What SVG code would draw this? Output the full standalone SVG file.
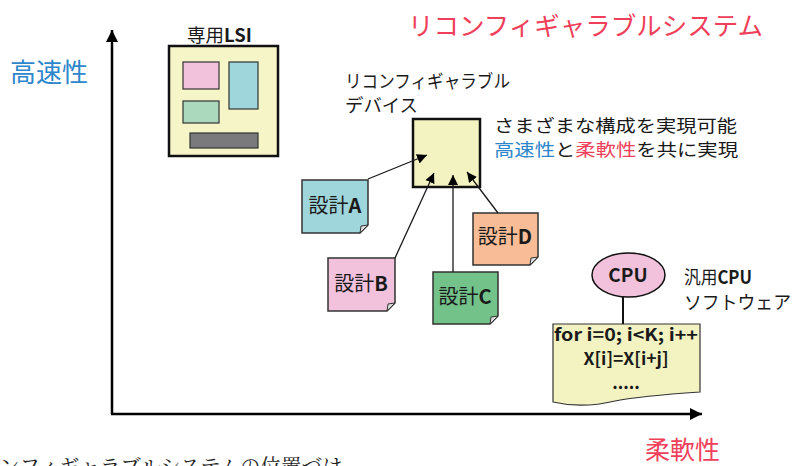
<svg xmlns="http://www.w3.org/2000/svg" width="795" height="466" viewBox="0 0 795 466">
<style>
text{font-family:"Noto Sans CJK JP","Noto Sans",sans-serif;fill:#1a1a1a}
.lat{font-weight:bold}
.note{stroke:#333;stroke-width:1.5}
.fold{fill:#ddd;stroke:#333;stroke-width:1}
.conn{stroke:#1a1a1a;stroke-width:1.3;fill:none;marker-end:url(#ah)}
.blue{fill:#2e86cc}
.red{fill:#ef3f5a}
.dl{font-size:20px}
</style>
<defs>
<marker id="ah" viewBox="0 0 10 10" refX="10" refY="5" markerWidth="10" markerHeight="10" markerUnits="userSpaceOnUse" orient="auto">
<path d="M0,0 L10,5 L0,10 Z" fill="#000"/>
</marker>
<marker id="axh" viewBox="0 0 10 10" refX="10" refY="5" markerWidth="14" markerHeight="12" markerUnits="userSpaceOnUse" orient="auto">
<path d="M0,0 L10,5 L0,10 Z" fill="#000"/>
</marker>
</defs>
<rect width="795" height="466" fill="#fff"/>

<g id="axes">
<line x1="112" y1="414" x2="112" y2="30" stroke="#000" stroke-width="2.5" marker-end="url(#axh)"/>
<line x1="111" y1="414" x2="702" y2="414" stroke="#000" stroke-width="2.5" marker-end="url(#axh)"/>
</g>

<g id="labels">
<text x="10" y="82" font-size="26" class="blue">高速性</text>
<text x="408" y="35" font-size="25.5" class="red">リコンフィギャラブルシステム</text>
<text x="645" y="459" font-size="25" class="red">柔軟性</text>
<text x="-1" y="474" font-size="20.5" style="font-family:'Noto Serif CJK JP','Liberation Serif','Noto Sans CJK JP',serif;fill:#222">ンフィギャラブルシステムの位置づけ</text>
</g>

<g id="lsi">
<text x="187" y="42" font-size="18.5">専用<tspan class="lat">LSI</tspan></text>
<rect x="169" y="46" width="109" height="110" fill="#f5f5c8" stroke="#111" stroke-width="2.5"/>
<rect x="183" y="62" width="36" height="27" fill="#f2c2dc" stroke="#333" stroke-width="1.2"/>
<rect x="229" y="62" width="29" height="47" fill="#9fd6dc" stroke="#333" stroke-width="1.2"/>
<rect x="183" y="101" width="36" height="22" fill="#abd9bd" stroke="#333" stroke-width="1.2"/>
<rect x="190" y="133" width="68" height="15" fill="#7a7a7c" stroke="#333" stroke-width="1.2"/>
</g>

<g id="device">
<text x="345" y="88" font-size="18" textLength="165" lengthAdjust="spacingAndGlyphs">リコンフィギャラブル</text>
<text x="345" y="112" font-size="18" textLength="73" lengthAdjust="spacingAndGlyphs">デバイス</text>
<rect x="413" y="119" width="67" height="68" fill="#f3f3c2" stroke="#111" stroke-width="2.5"/>
<text x="494" y="132" font-size="17.5" textLength="243" lengthAdjust="spacingAndGlyphs">さまざまな構成を実現可能</text>
<text x="494" y="156" font-size="17.5" textLength="244" lengthAdjust="spacingAndGlyphs"><tspan class="blue">高速性</tspan>と<tspan class="red">柔軟性</tspan>を共に実現</text>
</g>

<g id="designA">
<path class="note" d="M302,180 H368 V225 L360,233 H302 Z" fill="#9fd6dc"/>
<path class="fold" d="M368,225 L360,233 L361,226 Z"/>
<text x="335" y="213" class="dl" text-anchor="middle">設計<tspan class="lat">A</tspan></text>
</g>

<g id="designB">
<path class="note" d="M328,258 H395 V303 L387,311 H328 Z" fill="#f2c2dc"/>
<path class="fold" d="M395,303 L387,311 L388,304 Z"/>
<text x="361" y="291" class="dl" text-anchor="middle">設計<tspan class="lat">B</tspan></text>
</g>

<g id="designC">
<path class="note" d="M433,272 H498 V316 L490,324 H433 Z" fill="#72c28a"/>
<path class="fold" d="M498,316 L490,324 L491,317 Z"/>
<text x="465" y="304" class="dl" text-anchor="middle">設計<tspan class="lat">C</tspan></text>
</g>

<g id="designD">
<path class="note" d="M473,213 H538 V257 L530,265 H473 Z" fill="#f8bd96"/>
<path class="fold" d="M538,257 L530,265 L531,258 Z"/>
<text x="505" y="244" class="dl" text-anchor="middle">設計<tspan class="lat">D</tspan></text>
</g>

<g id="cpu">
<ellipse cx="628.5" cy="275" rx="36.5" ry="22" fill="#f2c2dc" stroke="#111" stroke-width="1.5"/>
<text x="628" y="282" font-size="19" text-anchor="middle" class="lat">CPU</text>
<text x="684" y="284" font-size="18.5" textLength="68" lengthAdjust="spacingAndGlyphs">汎用<tspan class="lat">CPU</tspan></text>
<text x="684" y="309" font-size="18.5" textLength="107" lengthAdjust="spacingAndGlyphs">ソフトウェア</text>
</g>

<g id="software">
<path d="M553,324 H700 V392 C670,394 640,396 615,401 C590,407 570,406 553,402 Z" fill="#f3f3c2" stroke="#333" stroke-width="1.2"/>
<text x="626" y="341" font-size="17" text-anchor="middle" class="lat" textLength="144" lengthAdjust="spacingAndGlyphs">for i=0; i&lt;K; i++</text>
<text x="626" y="365" font-size="17.5" text-anchor="middle" class="lat">X[i]=X[i+j]</text>
<text x="626" y="389" font-size="17" text-anchor="middle" class="lat">.....</text>
</g>

<g id="connectors">
<line class="conn" x1="368" y1="179" x2="427" y2="155"/>
<line class="conn" x1="395" y1="258" x2="434" y2="173"/>
<line class="conn" x1="453" y1="272" x2="453" y2="175"/>
<line class="conn" x1="498" y1="213" x2="467" y2="172"/>
<line x1="623" y1="297" x2="623" y2="324" stroke="#111" stroke-width="2"/>
</g>
</svg>
